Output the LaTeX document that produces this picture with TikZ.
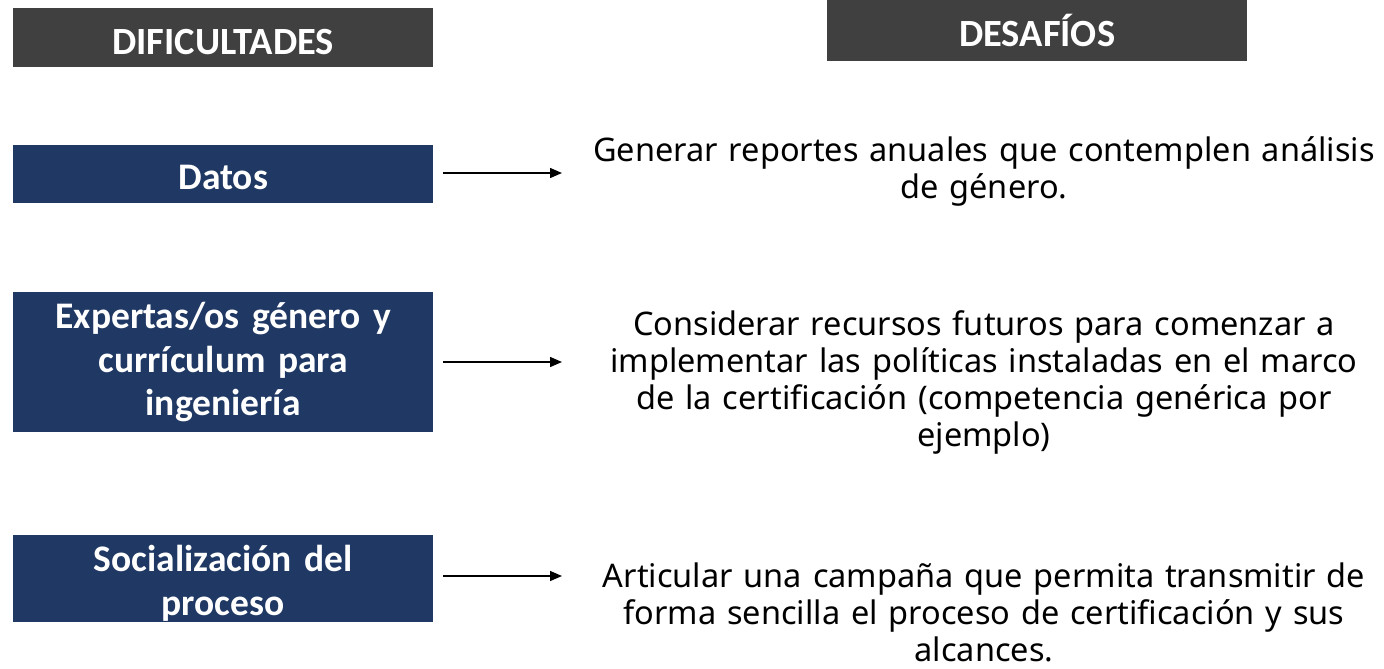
\documentclass[tikz,border=0pt]{standalone}
\usepackage{fontspec}
\setmainfont{Noto Sans}
\newfontfamily\boxfont{Carlito}
\usetikzlibrary{arrows.meta}
\definecolor{hdrgray}{HTML}{404040}
\definecolor{navy}{HTML}{203864}
\newcommand{\lowerby}[2]{\raisebox{-#1}[\height][\depth]{#2}}
\tikzset{
  hdr/.style={fill=hdrgray, text=white, font=\boxfont\bfseries\fontsize{38.5}{44}\selectfont, minimum width=420pt, inner sep=0pt, anchor=north west},
  diff/.style={fill=navy, text=white, font=\boxfont\bfseries\fontsize{37.5}{43.5}\selectfont, minimum width=420pt, inner sep=0pt, align=center, text width=410pt, anchor=north west},
  chal/.style={font=\fontsize{32.5}{37}\selectfont, align=center, text width=900pt, inner sep=0pt},
  conn/.style={line width=1.4pt, -{Triangle[length=12pt,width=10pt]}, shorten <=10pt}
}
\begin{document}
\begin{tikzpicture}[x=1pt,y=-1pt]
\useasboundingbox (0,0) rectangle (1384,669);
\node[hdr, minimum height=59pt] (h1) at (13,8) {\lowerby{4pt}{DIFICULTADES}};
\node[hdr, minimum height=61pt] (h2) at (827,0) {DESAFÍOS};
\node[diff, minimum height=58pt] (d1) at (13,145) {\lowerby{3pt}{Datos}};
\node[diff, minimum height=140pt] (d2) at (13,292) {Expertas/os género y\\currículum para\\ingeniería};
\node[diff, minimum height=86pt] (d3) at (13,535) {\lowerby{6pt}{\begin{tabular}{@{}c@{}}Socialización del\\proceso\end{tabular}}};
\node[chal] (c1) at (984,171) {Generar reportes anuales que contemplen análisis\\de género.};
\node[chal] (c2) at (984,382) {Considerar recursos futuros para comenzar a\\implementar las políticas instaladas en el marco\\de la certificación (competencia genérica por\\ejemplo)};
\node[chal] (c3) at (984,612) {Articular una campaña que permita transmitir de\\forma sencilla el proceso de certificación y sus\\alcances.};
\coordinate (e1) at (562,173);
\coordinate (e2) at (562,362);
\coordinate (e3) at (562,576);
\draw[conn] (d1.east |- e1) -- (e1);
\draw[conn] (d2.east |- e2) -- (e2);
\draw[conn] (d3.east |- e3) -- (e3);
\end{tikzpicture}
\end{document}
